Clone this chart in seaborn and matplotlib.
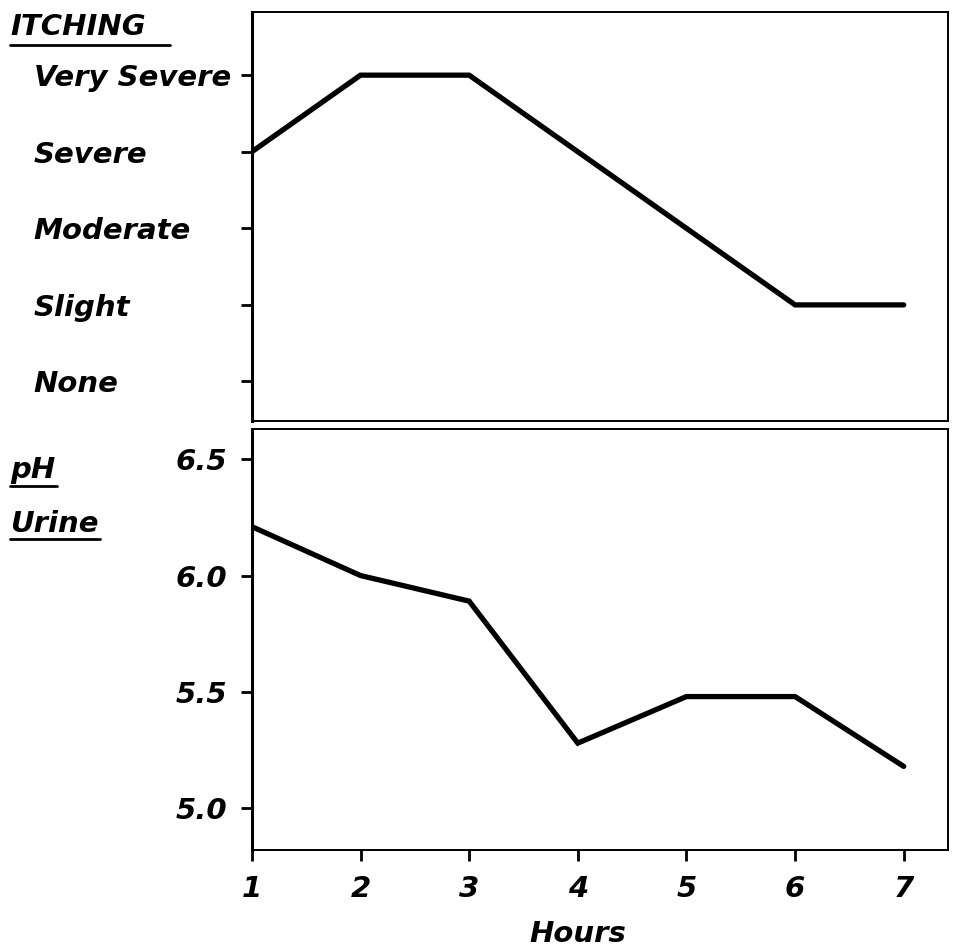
import numpy as np
import pandas as pd
import seaborn as sns
import matplotlib.pyplot as plt

# ── Data ─────────────────────────────────────────────────────────────────────
hours = [1, 2, 3, 4, 5, 6, 7]
itching = [3, 4, 4, 3, 2, 1, 1]          # 0 = None ... 4 = Very Severe
itch_labels = ["None", "Slight", "Moderate", "Severe", "Very Severe"]
ph_urine = [6.21, 6.00, 5.89, 5.28, 5.48, 5.48, 5.18]
ph_ticks = [5.0, 5.5, 6.0, 6.5]

df = pd.DataFrame({"Hours": hours, "Itching": itching, "pH": ph_urine})

sns.set_style("ticks")
plt.rcParams["font.family"] = ["DejaVu Sans"]
plt.rcParams["font.weight"] = "bold"
plt.rcParams["font.style"] = "oblique"
plt.rcParams["axes.labelweight"] = "bold"
for k in ("text.color", "axes.labelcolor", "xtick.color", "ytick.color"):
    plt.rcParams[k] = "black"

fig = plt.figure(figsize=(9.54, 9.51), dpi=100)
ax1 = fig.add_axes([0.264, 0.557, 0.730, 0.430])
ax2 = fig.add_axes([0.264, 0.106, 0.730, 0.443])

fs = 21
for ax in (ax1, ax2):
    for s in ax.spines.values():
        s.set_linewidth(1.4)
        s.set_color("black")
    ax.spines["left"].set_linewidth(2.2)
    ax.set_xlim(1, 7.41)

# ── Top: itching ─────────────────────────────────────────────────────────────
sns.lineplot(data=df, x="Hours", y="Itching", ax=ax1, color="black",
             linewidth=3.8, solid_joinstyle="miter")
ax1.set_ylim(-0.52, 4.82)
ax1.set_yticks(range(len(itch_labels)))
ax1.set_yticklabels(itch_labels, ha="left", fontsize=fs)
ax1.tick_params(axis="y", length=8, width=2, pad=149, direction="out")
ax1.set_xticks([])
ax1.set_xlabel("")
ax1.set_ylabel("")
fig.text(0.011, 0.986, "ITCHING", fontsize=fs, ha="left", va="top")
fig.add_artist(plt.Line2D([0.011, 0.178], [0.953, 0.953], color="black", lw=2))

# ── Bottom: urine pH ─────────────────────────────────────────────────────────
sns.lineplot(data=df, x="Hours", y="pH", ax=ax2, color="black",
             linewidth=3.8, solid_joinstyle="miter")
ax2.set_ylim(4.82, 6.63)
ax2.set_yticks(ph_ticks)
ax2.set_yticklabels([f"{v:.1f}" for v in ph_ticks], fontsize=fs)
ax2.tick_params(axis="y", length=8, width=2, pad=10, direction="out")
ax2.set_xticks(hours)
ax2.set_xticklabels([str(h) for h in hours], fontsize=fs)
ax2.tick_params(axis="x", length=8, width=2, pad=10, direction="out")
ax2.set_ylabel("")
ax2.set_xlabel("Hours", fontsize=fs, fontweight="bold")
ax2.xaxis.set_label_coords((4 - 1) / (7.41 - 1), -0.165)
fig.text(0.011, 0.520, "pH", fontsize=fs, ha="left", va="top")
fig.add_artist(plt.Line2D([0.011, 0.060], [0.489, 0.489], color="black", lw=2))
fig.text(0.011, 0.464, "Urine", fontsize=fs, ha="left", va="top")
fig.add_artist(plt.Line2D([0.011, 0.105], [0.433, 0.433], color="black", lw=2))

fig.savefig("out.png", dpi=100, facecolor="white")
